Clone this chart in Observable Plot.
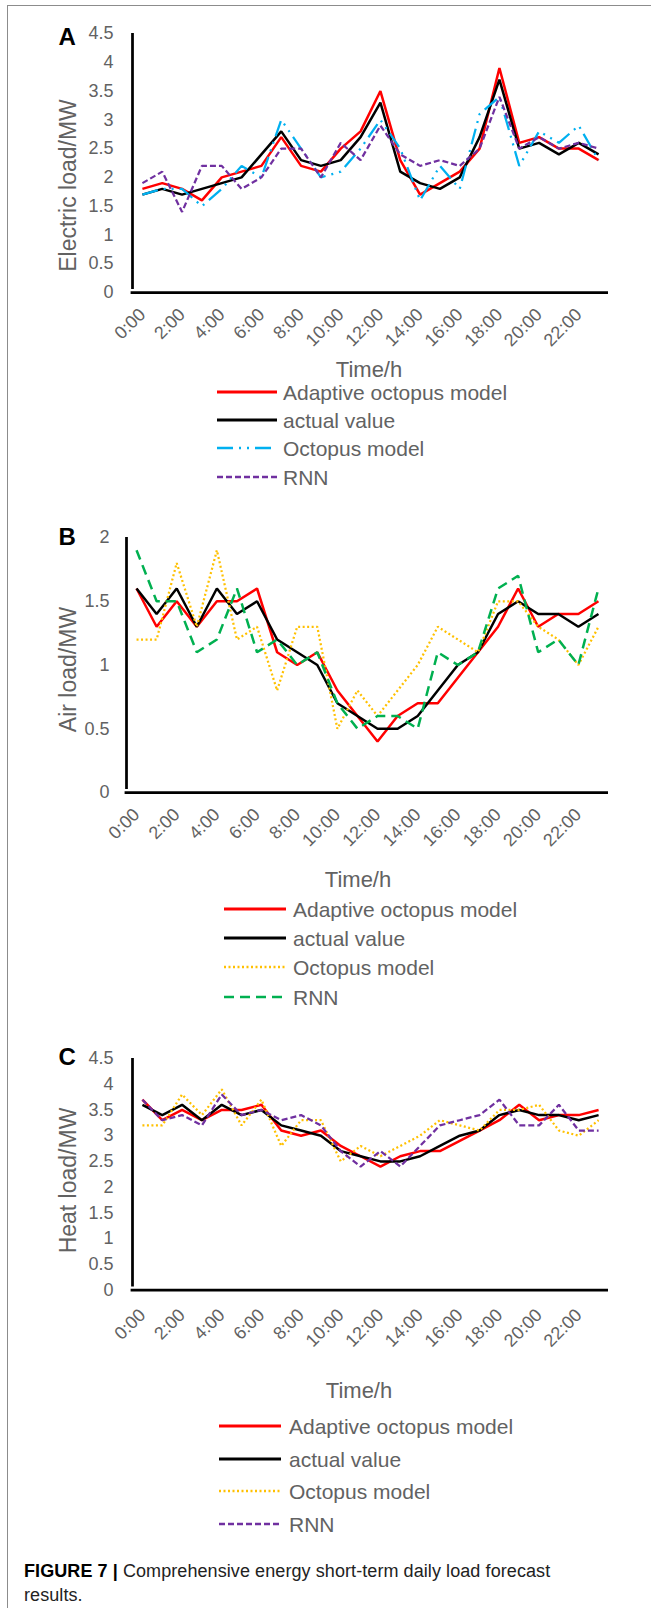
<!DOCTYPE html>
<html><head><meta charset="utf-8">
<script src="https://cdn.jsdelivr.net/npm/d3@7"></script>
<script src="https://cdn.jsdelivr.net/npm/@observablehq/plot@0.6"></script>
<style>
body{margin:0;background:#fff;}
#fig{position:relative;width:651px;height:1608px;overflow:hidden;font-family:"Liberation Sans",Arial,sans-serif;background:#fff;}
.abs{position:absolute;white-space:nowrap;}
</style></head><body><div id="fig"></div>
<script>
// ---- categories ----
const hours = [0,1,2,3,4,5,6,7,8,9,10,11,12,13,14,15,16,17,18,19,20,21,22,23];
const tickHours = [0,2,4,6,8,10,12,14,16,18,20,22];
const tickLabels = ["0:00","2:00","4:00","6:00","8:00","10:00","12:00","14:00","16:00","18:00","20:00","22:00"];
const seriesNames = ["Adaptive octopus model","actual value","Octopus model","RNN"];
const xTitle = "Time/h";

// ---- Panel A: electric load (MW) ----
const elecAdaptive = [1.8,1.9,1.8,1.6,2.0,2.1,2.2,2.7,2.2,2.1,2.5,2.8,3.5,2.3,1.7,1.9,2.1,2.5,3.9,2.6,2.7,2.5,2.5,2.3];
const elecActual   = [1.7,1.8,1.7,1.8,1.9,2.0,2.4,2.8,2.3,2.2,2.3,2.7,3.3,2.1,1.9,1.8,2.0,2.7,3.7,2.5,2.6,2.4,2.6,2.4];
const elecOctopus  = [1.7,1.8,1.8,1.5,1.8,2.2,2.0,3.0,2.5,2.0,2.1,2.5,3.0,2.5,1.6,2.2,1.8,3.1,3.4,2.2,2.8,2.6,2.9,2.3];
const elecRNN      = [1.9,2.1,1.4,2.2,2.2,1.8,2.0,2.5,2.5,2.0,2.6,2.3,2.9,2.4,2.2,2.3,2.2,2.5,3.4,2.5,2.7,2.5,2.6,2.5];
const elecTicks = [0,0.5,1,1.5,2,2.5,3,3.5,4,4.5];

// ---- Panel B: air load (MW) ----
const airAdaptive = [1.6,1.3,1.5,1.3,1.5,1.5,1.6,1.1,1.0,1.1,0.8,0.6,0.4,0.6,0.7,0.7,0.9,1.1,1.3,1.6,1.3,1.4,1.4,1.5];
const airActual   = [1.6,1.4,1.6,1.3,1.6,1.4,1.5,1.2,1.1,1.0,0.7,0.6,0.5,0.5,0.6,0.8,1.0,1.1,1.4,1.5,1.4,1.4,1.3,1.4];
const airOctopus  = [1.2,1.2,1.8,1.3,1.9,1.2,1.3,0.8,1.3,1.3,0.5,0.8,0.6,0.8,1.0,1.3,1.2,1.1,1.5,1.5,1.3,1.2,1.0,1.3];
const airRNN      = [1.9,1.5,1.5,1.1,1.2,1.6,1.1,1.2,1.0,1.1,0.7,0.5,0.6,0.6,0.5,1.1,1.0,1.1,1.6,1.7,1.1,1.2,1.0,1.6];
const airTicks = [0,0.5,1,1.5,2];

// ---- Panel C: heat load (MW) ----
const heatAdaptive = [3.7,3.3,3.5,3.3,3.5,3.5,3.6,3.1,3.0,3.1,2.8,2.6,2.4,2.6,2.7,2.7,2.9,3.1,3.3,3.6,3.3,3.4,3.4,3.5];
const heatActual   = [3.6,3.4,3.6,3.3,3.6,3.4,3.5,3.2,3.1,3.0,2.7,2.6,2.5,2.5,2.6,2.8,3.0,3.1,3.4,3.5,3.4,3.4,3.3,3.4];
const heatOctopus  = [3.2,3.2,3.8,3.4,3.9,3.2,3.7,2.8,3.3,3.3,2.5,2.8,2.6,2.8,3.0,3.3,3.2,3.1,3.5,3.5,3.6,3.1,3.0,3.3];
const heatRNN      = [3.7,3.3,3.4,3.2,3.8,3.4,3.5,3.3,3.4,3.2,2.7,2.4,2.7,2.4,2.8,3.2,3.3,3.4,3.7,3.2,3.2,3.6,3.1,3.1];
const heatTicks = [0,0.5,1,1.5,2,2.5,3,3.5,4,4.5];

const FONT = '"Liberation Sans", Arial, sans-serif';
const GRAY = "#626262";
const fig = document.getElementById("fig");

const panels = [
  {letter:"A", ylabel:"Electric load/MW", values:[elecAdaptive,elecActual,elecOctopus,elecRNN], ticks:elecTicks,
   colors:["#FF0000","#000000","#00B0F0","#7030A0"], dashes:[null,null,"16,6,2,6,2,6","6,3"], widths:[2.5,2.5,2.25,2.25],
   top:0, height:360, mt:33, mb:68, ml:132, mr:43, ymax:4.5, ypad:19, xpad:19, ylab:[68,185], capTop:27,
   timeH:[369,370], leg:{x1:217,x2:277,tx:283,rows:[391.7,420,447.7,476.7]}},
  {letter:"B", ylabel:"Air load/MW", values:[airAdaptive,airActual,airOctopus,airRNN], ticks:airTicks,
   colors:["#FF0000","#000000","#FFC000","#00B050"], dashes:[null,null,"2,2.5","10,6"], widths:[2.5,2.5,2.25,2.5],
   top:480, height:380, mt:57, mb:68, ml:126, mr:43, ymax:2, ypad:17, xpad:19, ylab:[68,669], capTop:527,
   timeH:[358,880], leg:{x1:224,x2:286,tx:293,rows:[909,938,967,997]}},
  {letter:"C", ylabel:"Heat load/MW", values:[heatAdaptive,heatActual,heatOctopus,heatRNN], ticks:heatTicks,
   colors:["#FF0000","#000000","#FFC000","#7030A0"], dashes:[null,null,"2,2.5","6,3"], widths:[2.5,2.5,2.25,2.25],
   top:1000, height:360, mt:58, mb:70.5, ml:132, mr:43, ymax:4.5, ypad:19, xpad:22, ylab:[68,1180], capTop:1047,
   timeH:[359,1391], leg:{x1:219,x2:281,tx:289,rows:[1426,1458.5,1491,1523.5]}}
];

for (const p of panels) {
  const frameMid = (p.mt + p.height - p.mb) / 2;
  const lines = p.values.map((vals, k) => Plot.line(vals, {
    x: (d, i) => hours[i], y: d => d,
    stroke: p.colors[k], strokeWidth: p.widths[k],
    strokeDasharray: p.dashes[k] || undefined, strokeLinejoin: "miter", strokeLinecap: "butt"
  }));
  const chart = Plot.plot({
    width: 651, height: p.height,
    marginTop: p.mt, marginBottom: p.mb, marginLeft: p.ml, marginRight: p.mr,
    style: {fontFamily: FONT, color: GRAY, background: "transparent", overflow: "visible"},
    x: {domain: [-0.5, 23.5]},
    y: {domain: [0, p.ymax]},
    marks: [
      Plot.axisY({ticks: p.ticks, tickFormat: d => String(d), tickSize: 0, tickPadding: p.ypad, fontSize: 18, label: null}),
      Plot.axisX({ticks: tickHours, tickFormat: d => tickLabels[tickHours.indexOf(d)], tickRotate: -45, tickSize: 0, tickPadding: p.xpad, fontSize: 18, label: null}),
      ...lines,
      Plot.ruleX([-0.5], {y1: 0, y2: p.ymax, insetTop: -3, stroke: "#000", strokeWidth: 2.75}),
      Plot.ruleY([0], {stroke: "#000", strokeWidth: 2.75, insetLeft: -1.4}),
      Plot.text([p.ylabel], {frameAnchor: "left", dx: p.ylab[0] - p.ml, dy: p.ylab[1] - p.top - frameMid,
        rotate: -90, fontSize: 23, fill: GRAY, textAnchor: "middle", lineAnchor: "middle", text: d => d}),
      Plot.text([p.letter], {frameAnchor: "top-left", dx: 58 - p.ml, dy: p.capTop - p.top - p.mt,
        lineAnchor: "top", textAnchor: "start", fontSize: 24, fontWeight: "bold", fill: "#000", text: d => d})
    ]
  });
  chart.style.position = "absolute";
  chart.style.left = "0px";
  chart.style.top = p.top + "px";
  fig.appendChild(chart);

  // x title
  const t = document.createElement("div");
  t.className = "abs";
  t.textContent = xTitle;
  Object.assign(t.style, {left: p.timeH[0] + "px", top: p.timeH[1] + "px", transform: "translate(-50%,-50%)",
    fontSize: "22px", color: GRAY, lineHeight: "1"});
  fig.appendChild(t);

  // legend
  seriesNames.forEach((name, k) => {
    const y = p.leg.rows[k];
    const sw = d3.create("svg").attr("width", p.leg.x2 - p.leg.x1).attr("height", 8)
      .style("position", "absolute").style("left", p.leg.x1 + "px").style("top", (y - 4) + "px");
    sw.append("line").attr("x1", 0).attr("x2", p.leg.x2 - p.leg.x1).attr("y1", 4).attr("y2", 4)
      .attr("stroke", p.colors[k]).attr("stroke-width", k < 2 ? 3 : 2.5)
      .attr("stroke-dasharray", p.dashes[k]);
    fig.appendChild(sw.node());
    const s = document.createElement("div");
    s.className = "abs";
    s.textContent = name;
    Object.assign(s.style, {left: p.leg.tx + "px", top: y + "px", transform: "translateY(-50%)",
      fontSize: "21px", color: GRAY, lineHeight: "1"});
    fig.appendChild(s);
  });
}

// border lines
const border = document.createElement("div");
Object.assign(border.style, {position: "absolute", left: "7px", top: "5px", width: "700px", height: "1700px",
  borderLeft: "1.5px solid #8c8c8c", borderTop: "1.5px solid #8c8c8c"});
fig.appendChild(border);

// caption
const cap = document.createElement("div");
cap.className = "abs";
Object.assign(cap.style, {left: "24px", top: "1559px", fontSize: "18px", lineHeight: "24px", color: "#222"});
cap.innerHTML = '<span id="cap1"><b style="color:#000">FIGURE 7 |</b> Comprehensive energy short-term daily load forecast</span><br>results.';
fig.appendChild(cap);
const c1 = document.getElementById("cap1");
const w = c1.getBoundingClientRect().width;
cap.style.letterSpacing = ((526 - w) / 62).toFixed(2) + "px";
</script>
</body></html>
